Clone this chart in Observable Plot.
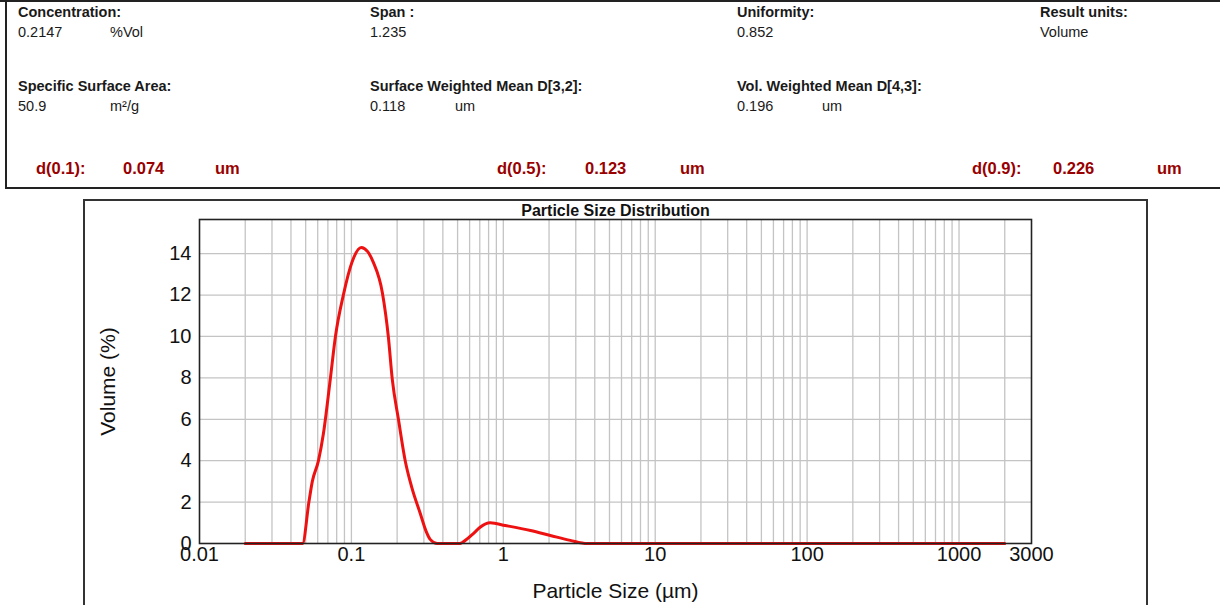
<!DOCTYPE html>
<html><head><meta charset="utf-8">
<script src="https://cdn.jsdelivr.net/npm/d3@7"></script>
<script src="https://cdn.jsdelivr.net/npm/@observablehq/plot@0.6"></script>
<style>
body{margin:0;background:#fff;width:1220px;height:605px;overflow:hidden;position:relative;font-family:"Liberation Sans",Arial,sans-serif;}
.t{position:absolute;font-size:14.5px;color:#1a1a1a;white-space:nowrap;line-height:1}
.b{font-weight:bold}
.r{color:#990000;font-weight:bold;font-size:16.5px}
.ln{position:absolute;background:#222}
</style></head><body>
<div class="ln" style="left:0;top:0;width:1220px;height:2px"></div>
<div class="ln" style="left:5px;top:0;width:2px;height:189px"></div>
<div class="ln" style="left:5px;top:187px;width:1215px;height:2px"></div>
<div class="ln" style="left:83px;top:199px;width:1064px;height:1.5px;background:#333"></div>
<div class="ln" style="left:83px;top:199px;width:1.5px;height:420px;background:#333"></div>
<div class="ln" style="left:1146px;top:199px;width:1.5px;height:420px;background:#333"></div>
<div id="hdr"></div>
<div id="chart" style="position:absolute;left:0;top:188px"></div>
<script>
// ---- header data ----
const statLabels = ["Concentration:", "Span :", "Uniformity:", "Result units:",
                    "Specific Surface Area:", "Surface Weighted Mean D[3,2]:", "Vol. Weighted Mean D[4,3]:"];
const statValues = ["0.2147", "1.235", "0.852", "Volume", "50.9", "0.118", "0.196"];
const statUnits  = ["%Vol", "", "", "", "m²/g", "um", "um"];
const dLabels = ["d(0.1):", "d(0.5):", "d(0.9):"];
const dValues = ["0.074", "0.123", "0.226"];
const dUnit = "um";

// ---- chart data ----
const sizes   = [0.02, 0.0477, 0.0525, 0.0553, 0.0607, 0.0654, 0.0725, 0.0785, 0.0885, 0.101, 0.116, 0.128, 0.139, 0.16, 0.175, 0.186, 0.204, 0.226, 0.25, 0.284, 0.31, 0.33, 0.367, 0.52, 0.537, 0.635, 0.70, 0.82, 1.03, 1.51, 2.04, 2.76, 3.57, 2000];
const volumes = [0, 0, 2.0, 3.0, 4.0, 5.3, 7.9, 10.0, 12.0, 13.6, 14.3, 14.1, 13.6, 12.1, 10.0, 7.9, 6.0, 4.0, 2.7, 1.45, 0.6, 0.2, 0, 0, 0.05, 0.48, 0.77, 1.0, 0.87, 0.63, 0.39, 0.15, 0, 0];
const xTicks = [0.01, 0.1, 1, 10, 100, 1000, 3000];
const yTicks = [0, 2, 4, 6, 8, 10, 12, 14];
const chartTitle = "Particle Size Distribution";
const xLabel = "Particle Size (µm)";
const yLabel = "Volume (%)";

// ---- header layout ----
const hdr = document.getElementById("hdr");
function put(txt, x, y, cls) {
  const d = document.createElement("div");
  d.className = "t " + cls; d.textContent = txt;
  d.style.left = x + "px"; d.style.top = y + "px";
  hdr.appendChild(d);
}
const colX = [18, 370, 737, 1040, 18, 370, 737];
const rowY = [5, 5, 5, 5, 79, 79, 79];
const unitX = [110, 0, 0, 0, 110, 455, 822];
statLabels.forEach((s, i) => {
  put(s, colX[i], rowY[i], "b");
  put(statValues[i], colX[i], rowY[i] + 20, "");
  if (statUnits[i]) put(statUnits[i], unitX[i], rowY[i] + 20, "");
});
const dX = [[36, 123, 215], [497, 585, 680], [972, 1053, 1157]];
dLabels.forEach((s, i) => {
  put(s, dX[i][0], 160, "r");
  put(dValues[i], dX[i][1], 160, "r");
  put(dUnit, dX[i][2], 160, "r");
});

// ---- chart ----
const data = sizes.map((s, i) => ({size: s, vol: volumes[i]}));
const gridXs = [];
for (let e = -2; e <= 3; e++) for (let m = 1; m <= 9; m++) {
  const v = m * Math.pow(10, e);
  if (v >= 0.019 && v <= 2001) gridXs.push(+v.toPrecision(3));
}
const plot = Plot.plot({
  width: 1220, height: 417,
  marginLeft: 199, marginRight: 189, marginTop: 31, marginBottom: 62,
  style: {fontFamily: "'Liberation Sans', Arial, sans-serif", fontSize: "17px", color: "#111", background: "transparent"},
  x: {type: "log", domain: [0.01, 3000], axis: null},
  y: {domain: [0, 15.65]},
  marks: [
    Plot.gridX(gridXs, {stroke: "#c4c4c4", strokeOpacity: 1, strokeWidth: 1.3}),
    Plot.gridY(yTicks.filter(d => d > 0), {stroke: "#c4c4c4", strokeOpacity: 1, strokeWidth: 1.3}),
    Plot.text(xTicks, {x: d => d, frameAnchor: "bottom", lineAnchor: "top", dy: 3, fontSize: 20, fill: "#111", text: d => String(d)}),
    Plot.axisY(yTicks, {tickSize: 0, tickPadding: 8, fontSize: 20, label: null}),
    Plot.text([xLabel], {frameAnchor: "bottom", dy: 54, fontSize: 21, fill: "#111", text: d => d}),
    Plot.text([yLabel], {frameAnchor: "left", dx: -91, rotate: -90, textAnchor: "middle", fontSize: 21, fill: "#111", text: d => d}),
    Plot.line(data, {x: "size", y: "vol", stroke: "#ee1111", strokeWidth: 3, curve: "monotone-x"}),
    Plot.frame({stroke: "#222", strokeWidth: 1.6}),
    Plot.text([chartTitle], {frameAnchor: "top", dy: -4, lineAnchor: "bottom", fontWeight: "bold", fontSize: 16, fill: "#111", text: d => d})
  ]
});
document.getElementById("chart").appendChild(plot);
</script>
</body></html>
